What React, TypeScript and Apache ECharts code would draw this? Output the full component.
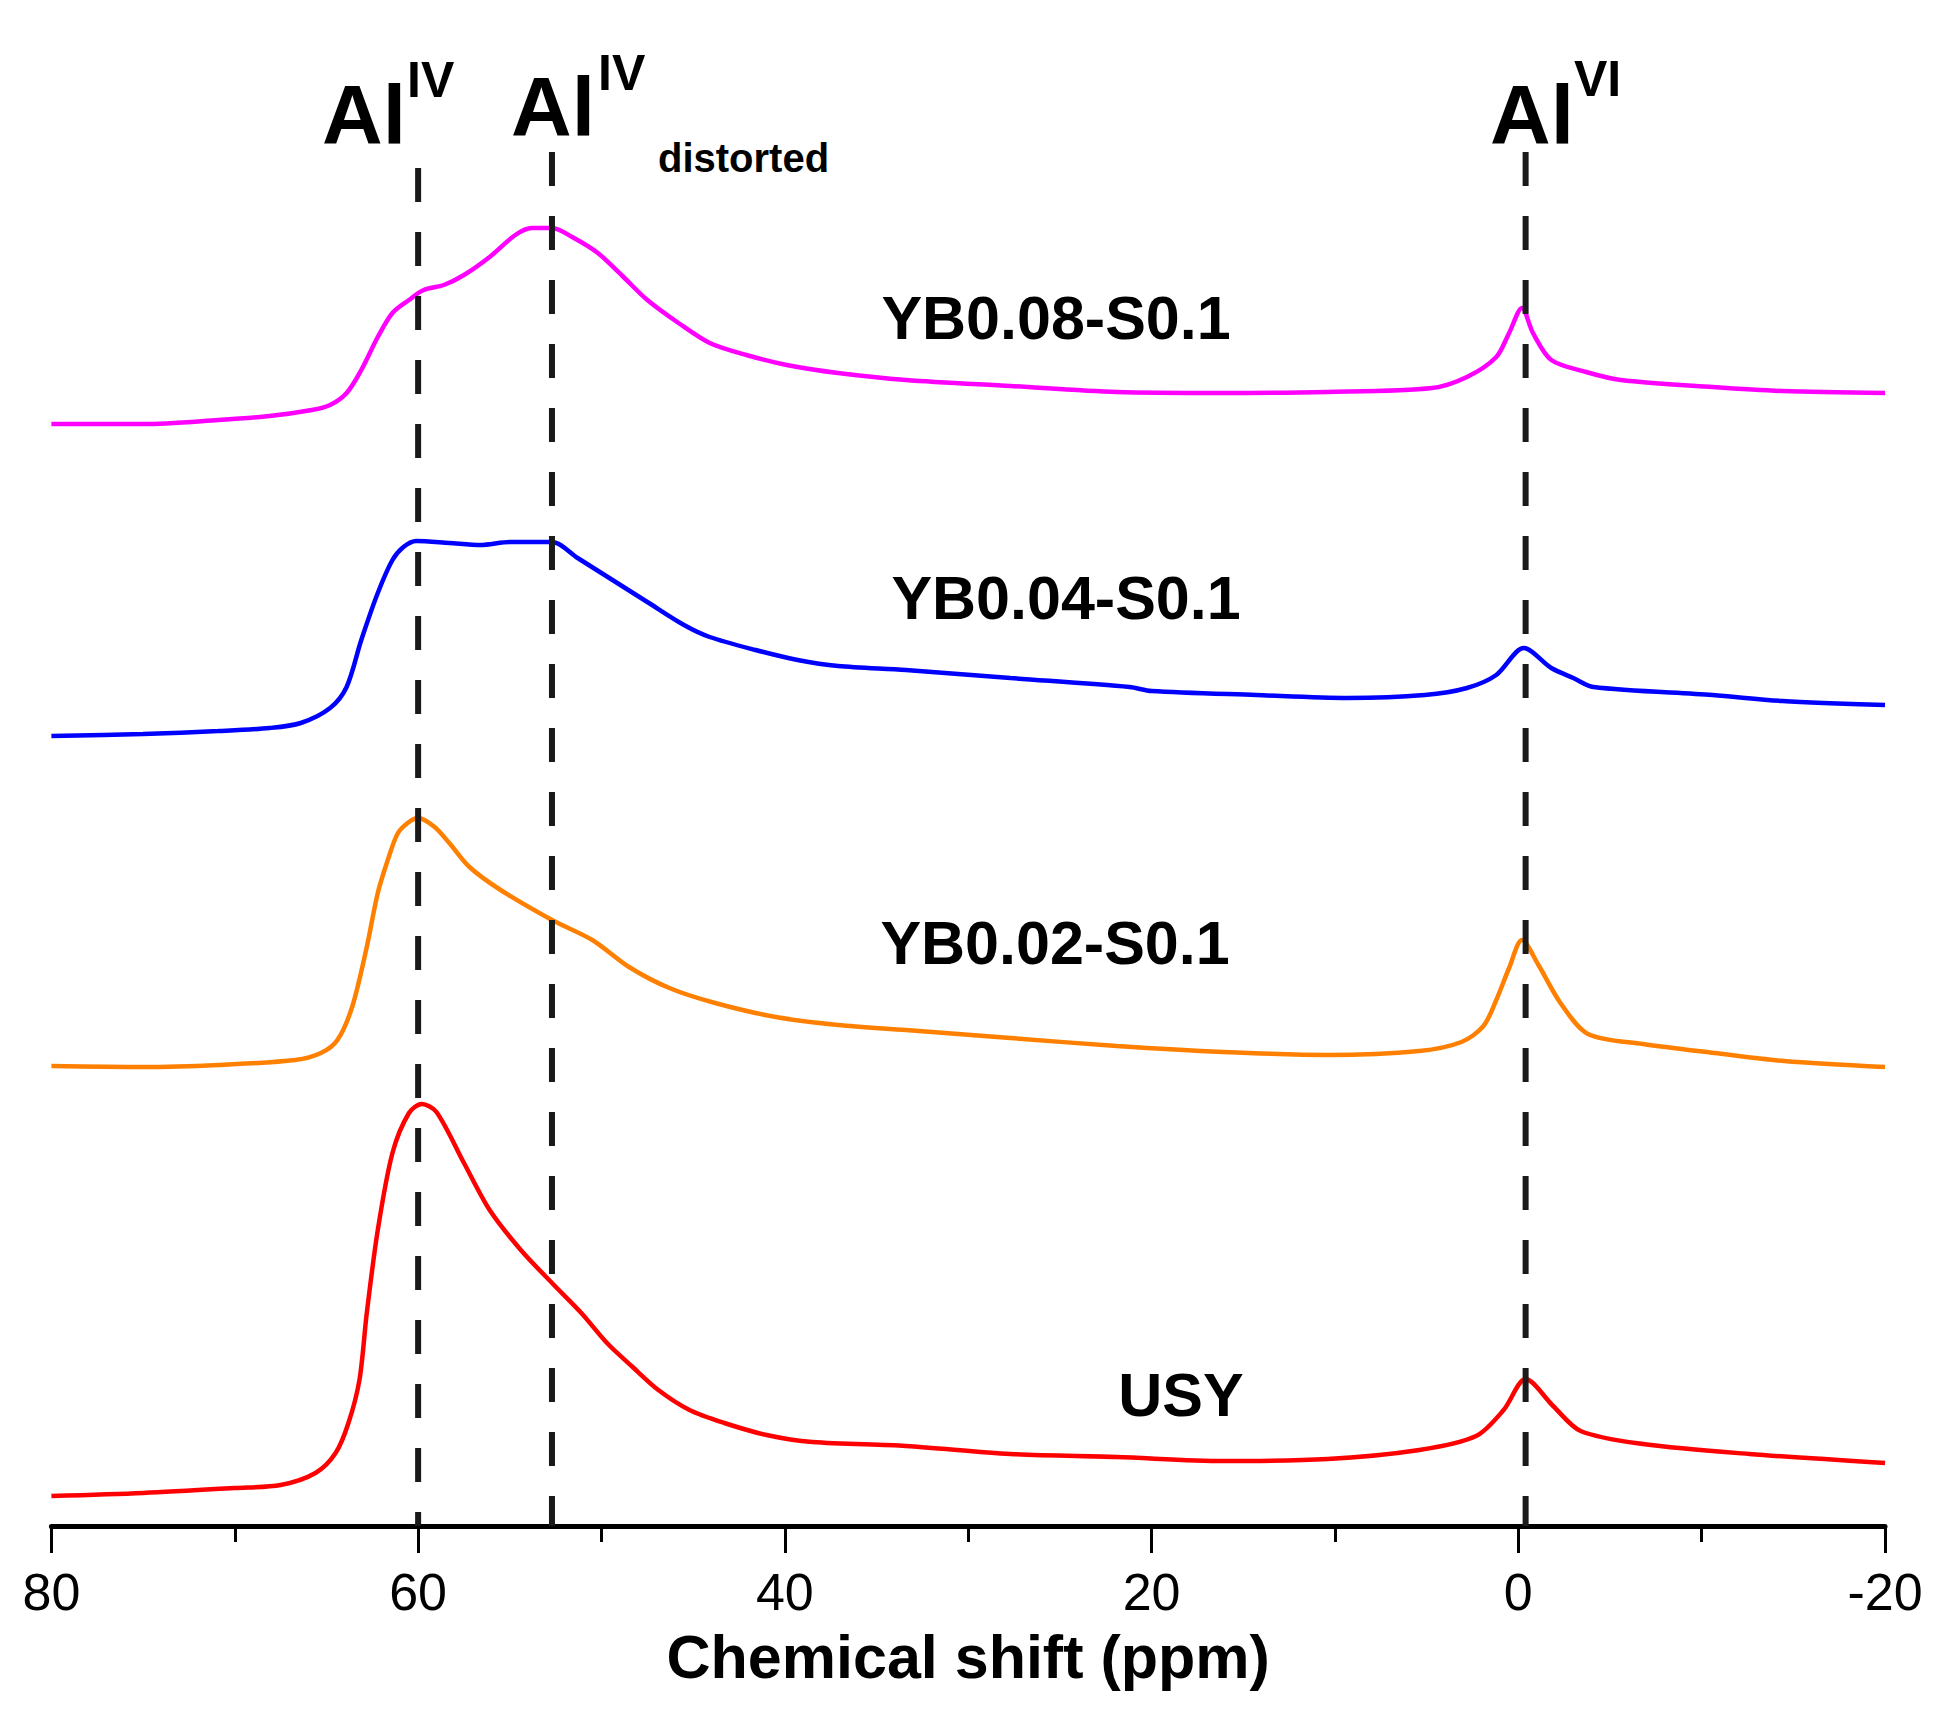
import { useEffect, useRef } from "react";
import * as echarts from "echarts";

// chemical shift (ppm), stacked intensity (a.u.)
const usy: [number, number][] = [
  [80, 3.0], [75, 3.3], [70, 3.8], [67.5, 4.1], [65.6, 5.3], [64.5, 7.3], [63.8, 10.3],
  [63.2, 14.6], [62.8, 21.3], [62.2, 29.6], [61.4, 37.3], [60.5, 41.3], [59.8, 42.2],
  [59.0, 41.4], [57.5, 36.3], [56.1, 31.6], [54.4, 27.6], [52.7, 24.3], [51.1, 21.3],
  [49.7, 18.3], [48.3, 15.9], [46.9, 13.6], [45.2, 11.6], [43.3, 10.3], [41.0, 9.1],
  [38.5, 8.4], [33.4, 8.0], [27.7, 7.2], [21.9, 6.9], [16.1, 6.5], [10.4, 6.7], [5.4, 7.6],
  [2.3, 9.0], [0.8, 11.6], [-0.4, 14.7], [-1.9, 12.0], [-3.4, 9.5], [-6.8, 8.2],
  [-12.6, 7.2], [-20, 6.3],
];

const yb002: [number, number][] = [
  [80, 46.0], [75, 45.9], [70.9, 46.1], [66.7, 46.6], [65.3, 47.3], [64.4, 48.6],
  [63.6, 51.9], [62.8, 57.9], [62.2, 63.3], [61.6, 66.9], [61.1, 69.3], [60.5, 70.4],
  [60.0, 70.8], [59.1, 69.9], [58.3, 68.3], [57.2, 65.9], [55.5, 63.6], [52.7, 60.6],
  [50.5, 58.6], [48.5, 55.9], [46.3, 53.8], [43.8, 52.3], [40.5, 50.9], [37.1, 50.1],
  [33.4, 49.6], [27.7, 48.8], [21.9, 48.0], [16.1, 47.4], [10.4, 47.1], [5.4, 47.5],
  [3.1, 48.4], [1.9, 50.0], [1.2, 52.6], [0.5, 55.8], [-0.2, 58.6], [-1.1, 56.1],
  [-2.3, 52.3], [-3.8, 49.2], [-6.8, 48.2], [-10.7, 47.3], [-14.5, 46.5], [-20, 45.9],
];

const yb004: [number, number][] = [
  [80, 79.0], [75, 79.2], [70.9, 79.5], [68.1, 79.8], [66.4, 80.3], [64.8, 81.8],
  [63.9, 83.9], [63.1, 88.6], [62.2, 93.3], [61.4, 96.6], [60.8, 97.9], [60.1, 98.5],
  [58.3, 98.3], [56.6, 98.1], [55.0, 98.4], [52.7, 98.4], [51.3, 96.8], [49.4, 94.6],
  [47.5, 92.4], [45.5, 90.1], [44.1, 88.9], [41.6, 87.6], [39.3, 86.6], [37.1, 86.0],
  [33.4, 85.6], [27.7, 84.8], [21.2, 83.9], [20.0, 83.5], [14.3, 83.1], [9.3, 82.8],
  [5.1, 83.1], [2.8, 83.8], [1.2, 85.1], [-0.3, 87.8], [-1.8, 85.8], [-3.0, 84.8],
  [-4.1, 83.9], [-10.6, 83.1], [-14.4, 82.5], [-20, 82.1],
];

const yb008: [number, number][] = [
  [80, 110.2], [75, 110.2], [70.9, 110.6], [68.1, 111.0], [65.8, 111.6], [64.8, 112.1],
  [63.9, 113.3], [63.1, 115.6], [62.2, 118.9], [61.4, 121.3], [60.5, 122.6], [59.7, 123.6],
  [58.6, 124.1], [57.5, 125.1], [56.1, 126.9], [54.7, 129.1], [53.8, 129.8], [52.7, 129.8],
  [51.6, 128.9], [50.2, 127.3], [48.8, 124.9], [47.5, 122.6], [45.8, 120.3], [44.1, 118.3],
  [42.1, 117.1], [39.9, 116.1], [37.1, 115.3], [33.4, 114.6], [27.7, 114.0], [21.9, 113.4],
  [16.2, 113.3], [10.4, 113.4], [4.7, 113.8], [2.8, 114.9], [1.2, 116.9], [0.5, 119.3],
  [-0.2, 121.8], [-0.8, 119.3], [-1.8, 116.6], [-3.7, 115.4], [-5.6, 114.6],
  [-10.6, 113.9], [-14.4, 113.5], [-20, 113.3],
];

const sampleNames = ["USY", "YB0.02-S0.1", "YB0.04-S0.1", "YB0.08-S0.1"];
const sampleColors = ["#ff0000", "#ff8000", "#0000ff", "#ff00ff"];
const spectra = [usy, yb002, yb004, yb008];

// assignment guide lines: ppm and top of dashed line
const guideShifts = [60, 52.7, -0.4];
const guideTops = [135.8, 137.4, 137.4];

const FONT = "'Liberation Sans', Arial, Helvetica, sans-serif";

function txt(text: string, x: number, y: number, size: number, align = "left", weight = "bold") {
  return {
    type: "text",
    x,
    y,
    silent: true,
    style: {
      text,
      fontSize: size,
      fontWeight: weight,
      fontFamily: FONT,
      fill: "#000",
      align,
      verticalAlign: "middle",
      textAlign: align,
      textVerticalAlign: "middle",
    },
  };
}

export default function App() {
  const ref = useRef<HTMLDivElement>(null);

  useEffect(() => {
    if (!ref.current) return;
    const chart = echarts.init(ref.current, null, { renderer: "svg" });

    const lineSeries = spectra.map((data, i) => ({
      name: sampleNames[i],
      type: "line",
      data,
      showSymbol: false,
      smooth: 0.3,
      lineStyle: { color: sampleColors[i], width: 4.5 },
      z: 3,
    }));

    const guideSeries = guideShifts.map((s, i) => ({
      type: "line",
      data: [
        [s, guideTops[i]],
        [s, 0],
      ],
      showSymbol: false,
      lineStyle: { color: "#1a1a1a", width: 6, type: [34, 30] },
      z: 4,
    }));

    chart.setOption({
      animation: false,
      backgroundColor: "#fff",
      grid: { left: 51.4, right: 56, top: 26, bottom: 199 },
      xAxis: {
        type: "value",
        min: -20,
        max: 80,
        interval: 20,
        inverse: true,
        name: "Chemical shift (ppm)",
        nameLocation: "middle",
        nameGap: 100,
        nameTextStyle: { fontSize: 61, fontWeight: "bold", fontFamily: FONT, color: "#000" },
        splitLine: { show: false },
        axisLine: { onZero: false, lineStyle: { color: "#000", width: 5 } },
        axisTick: { length: 27, lineStyle: { color: "#000", width: 3 } },
        minorTick: { show: true, splitNumber: 2, length: 16, lineStyle: { color: "#000", width: 3 } },
        axisLabel: {
          fontSize: 52,
          fontFamily: FONT,
          color: "#000",
          margin: 40,
          showMinLabel: true,
          showMaxLabel: true,
        },
      },
      yAxis: { type: "value", min: 0, max: 150, show: false },
      series: [...guideSeries, ...lineSeries],
      graphic: [
        txt("YB0.08-S0.1", 1056, 318, 61, "center"),
        txt("YB0.04-S0.1", 1066, 598, 61, "center"),
        txt("YB0.02-S0.1", 1055, 943, 61, "center"),
        txt("USY", 1181, 1395, 61, "center"),
        txt("Al", 322, 115, 84),
        txt("IV", 407, 80, 50),
        txt("Al", 511, 107, 84),
        txt("IV", 598, 73, 50),
        txt("distorted", 658, 158, 40),
        txt("Al", 1490, 115, 84),
        txt("VI", 1574, 79, 50),
      ],
    });

    return () => chart.dispose();
  }, []);

  return (
    <div
      ref={ref}
      style={{ position: "fixed", left: 0, top: 0, width: 1941, height: 1725, background: "#fff" }}
    />
  );
}
